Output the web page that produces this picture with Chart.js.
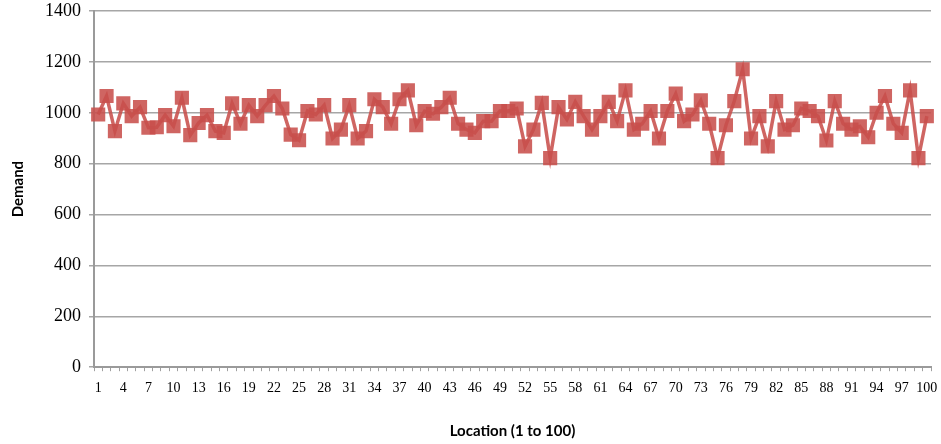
<!DOCTYPE html>
<html>
<head>
<meta charset="utf-8">
<script src="https://cdn.jsdelivr.net/npm/chart.js@4/dist/chart.umd.min.js"></script>
<style>
  html, body { margin: 0; padding: 0; background: #fff; }
  #wrap { width: 941px; height: 444px; }
</style>
</head>
<body>
<div id="wrap"><canvas id="demandChart" width="941" height="444"></canvas></div>
<script>
// valores (locais 1 a 100)
const locations = [];
for (let i = 1; i <= 100; i++) locations.push(String(i));

const demand = [
  993, 1066, 928, 1037, 987, 1022, 941, 943, 991, 947,
  1059, 912, 960, 991, 928, 921, 1037, 957, 1030, 987,
  1030, 1066, 1017, 914, 892, 1007, 993, 1030, 899, 934,
  1030, 899, 928, 1053, 1022, 957, 1053, 1088, 951, 1007,
  996, 1022, 1059, 957, 934, 921, 967, 967, 1007, 1007,
  1017, 868, 934, 1039, 822, 1022, 974, 1043, 987, 934,
  987, 1043, 967, 1088, 934, 957, 1007, 899, 1007, 1075,
  967, 993, 1049, 957, 822, 951, 1046, 1171, 899, 987,
  868, 1046, 934, 951, 1017, 1007, 987, 891, 1046, 957,
  934, 947, 904, 1000, 1066, 957, 921, 1088, 822, 987
];

const yMin = 0;
const yMax = 1400;
const yStep = 200;

const serif = '"Times New Roman", "Liberation Serif", "DejaVu Serif", serif';
const sans = 'Lato, "Open Sans", sans-serif';

const ctx = document.getElementById('demandChart').getContext('2d');

const chart = new Chart(ctx, {
  type: 'line',
  data: {
    labels: locations,
    datasets: [{
      label: 'Demand',
      data: demand,
      borderColor: 'rgba(200, 80, 76, 0.88)',
      backgroundColor: 'rgba(200, 80, 76, 0.88)',
      borderWidth: 3.5,
      pointStyle: 'rect',
      pointRadius: 10,
      pointHoverRadius: 10,
      pointBorderWidth: 0,
      tension: 0
    }]
  },
  options: {
    responsive: false,
    animation: false,
    layout: { padding: { left: 9, right: 0, top: 0, bottom: 4 } },
    plugins: {
      legend: { display: false },
      tooltip: { enabled: false }
    },
    scales: {
      x: {
        offset: true,
        afterFit: (s) => { s.paddingRight = 8; },
        grid: {
          offset: true,
          drawOnChartArea: false,
          drawTicks: true,
          tickLength: 4,
          color: '#a0a0a0'
        },
        border: { color: '#9a9a9a', width: 2 },
        ticks: {
          autoSkip: false,
          maxRotation: 0,
          padding: 9,
          color: '#000',
          font: { family: serif, size: 14 },
          callback: function (val, index) {
            return index % 3 === 0 ? this.getLabelForValue(val) : '';
          }
        },
        title: {
          display: true,
          text: 'Location (1 to 100)',
          color: '#000',
          font: { family: sans, size: 15, weight: 'bold' },
          padding: { top: 16, bottom: 0 }
        }
      },
      y: {
        min: yMin,
        max: yMax,
        afterFit: (s) => { s.paddingTop = 11; },
        ticks: {
          stepSize: yStep,
          padding: 8,
          color: '#000',
          font: { family: serif, size: 18 },
          callback: (v) => String(v)
        },
        grid: {
          color: '#a6a6a6',
          lineWidth: 1.5,
          tickLength: 5
        },
        border: { color: '#9a9a9a', width: 2 },
        title: {
          display: true,
          text: 'Demand',
          color: '#000',
          font: { family: sans, size: 15, weight: 'bold' },
          padding: { top: 0, bottom: 10 }
        }
      }
    }
  }
});
</script>
</body>
</html>
